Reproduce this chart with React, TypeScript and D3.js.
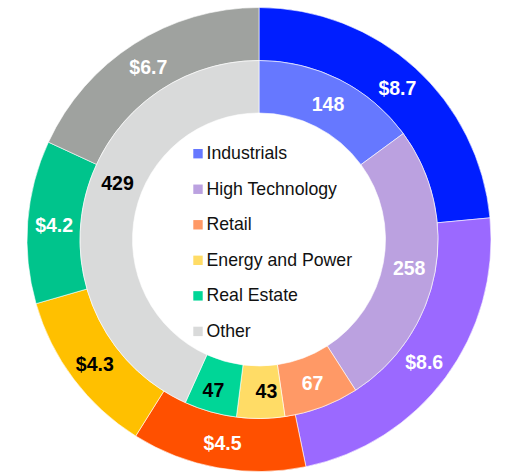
import React from "react";
import * as d3 from "d3";

const categories = ["Industrials", "High Technology", "Retail", "Energy and Power", "Real Estate", "Other"];
const outerValues = [8.7, 8.6, 4.5, 4.3, 4.2, 6.7];
const innerValues = [148, 258, 67, 43, 47, 429];
const outerColors = ["#001EFF", "#9B69FF", "#FF5000", "#FFC000", "#00C48C", "#9FA29F"];
const innerColors = ["#6678FF", "#BBA1E0", "#FF9966", "#FFDC66", "#00D697", "#D9DADA"];
const outerTextColors = ["#fff", "#fff", "#fff", "#000", "#fff", "#fff"];
const innerTextColors = ["#fff", "#fff", "#fff", "#000", "#000", "#000"];

const W = 508;
const H = 472;
const cx = 259;
const cy = 239.5;
const R0 = 126.5;
const R1 = 179;
const R2 = 232;
const FONT = "'Liberation Sans', Arial, sans-serif";

// small manual label nudges (as in the original chart's label layout)
const innerLabelNudge: Record<number, [number, number]> = {
  3: [6, -2],
  4: [-4, 3],
};
const innerLabelAngleShift: Record<number, number> = {
  5: (10 * Math.PI) / 180,
};

export default function App() {
  const pie = d3.pie<number>().sort(null).value((d) => d);
  const outerArcs = pie(outerValues);
  const innerArcs = pie(innerValues);
  const outerArc = d3.arc<d3.PieArcDatum<number>>().innerRadius(R1).outerRadius(R2);
  const innerArc = d3.arc<d3.PieArcDatum<number>>().innerRadius(R0).outerRadius(R1);

  const legendY = d3.scaleLinear().domain([0, categories.length - 1]).range([159.3, 337]);

  return (
    <svg
      width={W}
      height={H}
      style={{ position: "absolute", left: 0, top: 0, background: "#fff" }}
      fontFamily={FONT}
    >
      <g transform={`translate(${cx},${cy})`}>
        {outerArcs.map((a, i) => (
          <path key={"o" + i} d={outerArc(a) || ""} fill={outerColors[i]} stroke="#fff" strokeWidth={0.6} />
        ))}
        {innerArcs.map((a, i) => (
          <path key={"i" + i} d={innerArc(a) || ""} fill={innerColors[i]} stroke="#fff" strokeWidth={0.6} />
        ))}
        {outerArcs.map((a, i) => {
          const [x, y] = outerArc.centroid(a);
          return (
            <text
              key={"ot" + i}
              x={x}
              y={y}
              dy="0.4em"
              textAnchor="middle"
              fontWeight="bold"
              fontSize={19.5}
              fill={outerTextColors[i]}
            >
              {"$" + outerValues[i].toFixed(1)}
            </text>
          );
        })}
        {innerArcs.map((a, i) => {
          const shift = innerLabelAngleShift[i] || 0;
          const [x, y] = innerArc.centroid({
            ...a,
            startAngle: a.startAngle + shift,
            endAngle: a.endAngle + shift,
          });
          const [nx, ny] = innerLabelNudge[i] || [0, 0];
          return (
            <text
              key={"it" + i}
              x={x + nx}
              y={y + ny}
              dy="0.4em"
              textAnchor="middle"
              fontWeight="bold"
              fontSize={19.5}
              fill={innerTextColors[i]}
            >
              {innerValues[i]}
            </text>
          );
        })}
      </g>
      <g>
        {categories.map((c, i) => (
          <g key={"l" + i}>
            <rect x={193.3} y={legendY(i) - 10.3} width={9.4} height={9.4} fill={innerColors[i]} />
            <text x={206.5} y={legendY(i)} fontSize={17.7} fill="#111">
              {c}
            </text>
          </g>
        ))}
      </g>
    </svg>
  );
}
